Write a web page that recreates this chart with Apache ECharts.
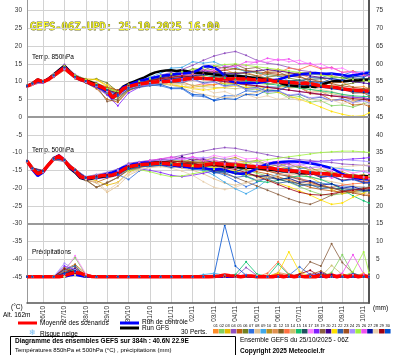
<!DOCTYPE html>
<html>
<head>
<meta charset="utf-8">
<script src="https://cdn.jsdelivr.net/npm/echarts@6/dist/echarts.min.js"></script>
<style>
html, body { margin: 0; padding: 0; background: #fff; }
#chart { width: 395px; height: 355px; }
</style>
</head>
<body>
<div id="chart"></div>
<script>
// run GEFS 06Z du 25/10/2025, heures depuis 25/10 06h UTC
const runStart = Date.UTC(2025, 9, 25, 6)
const stepHours = []
for (let h = 0; h <= 384; h += 6) stepHours.push(h)
// scenarios lus toutes les 12h (plus debut et fin)
const pertHours = [0]
for (let h = 6; h <= 378; h += 12) pertHours.push(h)
pertHours.push(384)

const dayTicks = [18, 42, 66, 90, 114, 138, 162, 186, 210, 234, 258, 282, 306, 330, 354, 378]
const leftTicks = [-45, -40, -35, -30, -25, -20, -15, -10, -5, 0, 5, 10, 15, 20, 25, 30]
const rightTicks = [0, 5, 10, 15, 20, 25, 30, 35, 40, 45, 50, 55, 60, 65, 70, 75]
const precipOffset = -45

const pertColors = ['#ff8c28','#80d060','#e8b800','#9050c0','#c06010','#708020','#3070e0','#e0c090','#40a8e8','#b89020',
  '#e09050','#806020','#ff7040','#c8c070','#10c070','#205060','#ff80ff','#8020ff','#8a6040','#400090',
  '#ffe000','#3060b0','#a05020','#a890ff','#a0f040','#f050f0','#0010a0','#e8d0b0','#a00010','#0050d0']

// moyenne / controle / GFS, pas de 6h
const mean850 = [8.7,9.3,10.5,9.9,10.6,11.7,12.8,13.9,12.5,11.3,10.6,10.2,9.4,9.0,8.4,7.6,5.5,6.5,8.0,8.6,
  9.0,9.3,9.5,9.8,9.9,10.0,10.0,10.2,10.3,10.5,10.8,10.9,11.0,10.9,10.8,10.8,10.6,10.8,10.7,10.9,
  10.7,10.8,10.6,10.5,10.4,10.5,10.2,10.0,9.9,9.8,9.7,9.5,9.6,9.4,9.1,8.8,8.6,8.5,8.3,8.0,
  7.8,7.6,7.5,7.4,7.3]
const ctrl850 = [8.7,9.4,10.4,9.8,10.7,11.8,13.0,14.2,12.6,11.2,10.5,10.0,9.2,8.6,8.0,7.0,5.2,6.8,8.4,9.0,
  9.6,10.2,10.5,10.9,11.2,11.6,11.8,12.0,12.2,12.3,12.4,12.6,13.2,14.2,14.3,14.0,13.0,11.6,10.2,9.8,
  9.6,9.7,9.6,9.6,9.8,10.1,10.4,10.6,11.0,11.5,11.8,12.0,12.2,12.3,12.4,12.3,12.2,12.3,12.1,11.9,
  11.6,11.8,12.0,12.3,12.4]
const gfs850 = [8.7,9.5,10.6,10.0,10.8,12.0,13.3,14.5,12.8,11.5,10.8,10.3,9.8,9.2,8.5,7.4,5.6,7.0,8.6,9.4,
  10.0,10.6,11.2,12.0,12.6,12.9,13.1,13.2,13.0,13.2,12.9,12.6,12.5,12.4,12.2,12.0,11.8,11.7,11.6,11.6,
  11.5,11.3,11.1,11.0,10.8,10.4,10.2,9.8,9.3,9.0,8.8,8.6,8.5,8.6,8.5,9.0,9.6,10.0,10.2,10.0,
  10.2,10.4,10.3,10.5,10.6]
const mean500 = [-12.4,-14.5,-16.0,-15.3,-13.5,-11.8,-11.0,-12.2,-14.0,-15.0,-16.8,-17.2,-17.0,-16.8,-16.5,-16.4,-16.3,-15.8,-14.8,-14.0,
  -13.7,-13.5,-13.3,-13.2,-13.0,-13.0,-13.1,-13.3,-13.4,-13.4,-13.6,-13.7,-13.8,-13.6,-13.3,-13.1,-13.2,-13.3,-13.4,-13.5,
  -13.6,-13.8,-13.9,-14.0,-14.2,-14.3,-14.5,-14.8,-15.0,-15.1,-15.2,-15.3,-15.5,-15.7,-15.8,-16.0,-16.0,-16.2,-16.3,-16.5,
  -16.6,-16.7,-16.8,-17.0,-17.1]
const ctrl500 = [-12.4,-14.8,-16.6,-15.6,-13.6,-11.6,-10.8,-12.0,-14.2,-15.4,-17.0,-17.5,-17.2,-16.9,-16.4,-16.0,-15.6,-15.0,-14.2,-13.6,
  -13.2,-13.0,-12.8,-12.9,-13.0,-13.2,-13.4,-13.6,-13.8,-14.0,-14.1,-14.2,-14.3,-14.4,-14.6,-14.8,-14.6,-14.9,-15.4,-15.8,
  -16.0,-15.9,-15.2,-14.6,-13.8,-13.2,-12.9,-12.7,-12.6,-12.5,-12.5,-12.6,-12.8,-13.0,-13.3,-13.6,-14.0,-14.4,-15.2,-16.0,
  -16.6,-17.0,-17.3,-17.5,-17.6]
const gfs500 = [-12.4,-14.3,-15.8,-15.2,-13.4,-11.6,-10.9,-12.3,-14.4,-15.6,-17.2,-17.6,-17.4,-17.0,-16.8,-16.6,-16.4,-15.8,-14.9,-14.2,
  -13.8,-13.4,-13.2,-13.0,-12.8,-12.8,-12.9,-13.0,-13.2,-13.3,-13.4,-13.5,-13.6,-13.6,-13.5,-13.4,-13.6,-13.8,-14.0,-14.1,
  -14.2,-14.3,-14.2,-14.4,-14.6,-14.8,-14.9,-15.1,-15.3,-15.4,-15.5,-15.6,-15.8,-15.9,-16.0,-16.1,-16.0,-16.2,-16.4,-16.5,
  -16.6,-16.5,-16.7,-16.6,-16.7]

// precipitations (mm) : [heure, mm], zero ailleurs
const meanPrecip = [[42,0.3],[48,0.8],[54,1.2],[60,1.0],[66,0.4],[72,0.1],[210,0.1],[216,0.2],[222,0.5],[228,0.3],[234,0.2],
  [246,0.2],[252,0.2],[282,0.3],[294,0.3],[306,0.2],[330,0.4],[342,0.5],[354,0.4],[366,0.4],[378,0.3]]
const ctrlPrecip = [[48,0.4],[54,0.6],[60,0.3]]
const gfsPrecip = [[48,1.0],[54,1.4],[60,0.6]]

// 30 perturbations, T850
const pert850 = [
  [8.6,9.3,10.2,12.0,14.5,11.8,10.4,9.2,7.0,5.5,8.0,9.5,10.4,11.0,12.2,11.6,12.8,11.4,12.6,13.4,12.2,12.6,11.6,12.9,13.5,12.4,12.2,11.0,11.2,9.6,9.8,8.4,8.6,8.0],
  [8.8,9.5,9.8,11.4,13.6,11.0,9.8,8.6,6.8,5.2,7.6,8.6,9.2,9.8,10.9,10.8,12.0,10.6,10.8,9.2,9.4,7.6,7.9,6.6,7.0,5.4,5.8,4.2,4.6,3.2,3.4,2.8,3.8,4.2],
  [8.7,9.2,10.0,11.8,14.0,11.6,10.8,10.6,9.0,7.4,8.8,9.2,9.6,9.4,9.0,8.6,8.4,8.8,9.2,9.6,9.4,9.0,8.6,8.2,8.4,8.8,9.4,9.8,9.2,8.6,8.0,7.2,6.8,6.6],
  [8.7,9.6,10.1,12.2,14.8,12.0,10.6,9.4,7.8,6.2,8.8,10.2,11.0,11.8,12.6,13.4,14.6,16.0,17.2,18.0,18.5,17.4,16.0,15.2,14.8,14.0,13.2,12.8,12.4,12.0,11.6,11.2,11.6,12.0],
  [8.6,9.2,9.7,11.2,13.2,10.8,9.6,8.0,5.0,4.2,7.4,8.6,9.4,10.2,11.2,11.0,12.2,11.8,13.0,11.6,11.8,10.4,10.6,9.2,9.6,8.4,8.4,6.6,6.4,4.8,4.8,3.4,3.6,3.0],
  [8.7,9.4,10.0,11.6,13.8,11.4,10.2,10.8,9.6,7.2,8.4,9.0,9.6,10.4,11.2,12.0,12.6,13.0,13.6,14.0,13.6,13.0,12.4,12.0,11.6,11.0,10.4,9.8,9.0,8.6,9.0,9.6,10.2,10.4],
  [8.8,9.5,9.9,11.6,13.6,11.2,10.0,8.8,7.4,6.0,8.2,8.8,9.0,8.8,8.0,8.0,6.0,5.8,4.8,6.0,6.0,7.4,7.2,8.6,8.4,9.8,9.8,11.2,11.0,12.2,11.8,12.8,12.6,13.0],
  [8.6,9.2,9.8,11.5,13.4,11.0,10.0,9.2,8.0,7.0,8.4,9.0,9.4,9.6,9.0,8.2,7.2,6.4,5.8,5.4,5.8,6.4,7.0,7.6,8.0,8.4,8.8,8.4,7.8,7.2,6.4,5.8,5.4,5.2],
  [8.7,9.4,10.0,11.9,14.2,11.6,10.4,9.0,7.2,6.0,8.8,10.0,11.2,12.4,13.8,14.0,15.6,15.2,15.6,14.2,14.2,12.6,12.8,11.4,11.6,10.2,10.4,9.2,9.4,8.0,8.2,6.8,7.0,6.4],
  [8.7,9.3,9.9,11.7,13.9,11.4,10.2,9.0,7.4,6.4,8.4,9.4,10.0,10.6,11.0,11.4,11.2,10.8,10.4,10.0,9.8,10.2,10.6,11.2,11.8,12.2,12.6,12.4,12.0,11.6,11.0,10.6,10.4,10.2],
  [8.8,9.5,10.0,11.8,14.1,11.3,10.3,9.1,7.8,6.8,8.8,9.6,10.2,10.8,11.8,11.6,13.0,11.8,12.2,11.0,11.4,10.2,10.6,9.4,9.6,8.2,8.4,7.0,7.2,5.8,6.0,4.6,5.0,4.4],
  [8.6,9.2,9.8,11.6,13.8,11.2,10.0,8.6,6.4,4.6,7.6,8.8,9.6,10.0,10.6,11.0,11.4,11.8,12.2,12.4,12.6,12.2,11.6,11.0,10.4,9.8,9.2,8.8,8.6,8.2,7.8,7.6,7.8,8.0],
  [8.7,9.4,10.1,11.9,14.0,11.5,10.4,9.4,8.2,7.4,9.0,9.6,10.0,10.2,9.6,10.0,8.8,9.4,9.0,10.2,10.0,11.4,11.2,12.6,12.4,13.8,13.4,14.6,13.6,14.0,12.6,13.0,11.8,12.0],
  [8.7,9.3,9.8,11.5,13.7,11.2,10.1,8.9,7.4,6.6,8.6,9.2,9.6,9.8,9.6,9.4,9.0,8.6,8.4,8.2,8.0,8.4,8.8,9.2,9.6,9.0,8.4,7.8,7.2,6.6,6.0,5.6,5.4,5.2],
  [8.8,9.5,10.0,11.8,13.8,11.2,10.0,9.2,8.0,7.2,9.2,10.0,10.6,11.2,11.6,12.0,12.2,11.8,11.4,11.0,10.6,10.2,9.8,9.4,9.0,8.6,8.2,7.8,7.4,7.0,6.4,6.0,5.8,5.8],
  [8.7,9.4,9.9,11.6,13.8,11.3,10.2,9.0,7.6,6.4,8.4,9.0,9.4,9.6,9.8,10.2,10.6,11.0,11.4,11.8,12.0,11.6,11.2,10.8,10.4,10.2,10.4,10.6,10.8,11.0,11.2,11.0,10.8,10.6],
  [8.6,9.2,9.8,11.6,13.8,11.2,10.0,8.8,7.2,6.0,8.0,9.0,9.8,10.4,11.4,11.0,12.2,12.0,13.4,13.2,14.6,14.4,15.8,15.4,16.4,15.6,16.0,14.8,15.0,13.6,13.8,12.4,12.8,12.0],
  [8.7,9.3,9.7,11.4,13.4,11.0,9.8,8.4,6.2,3.2,6.8,8.4,9.2,9.8,10.2,10.6,11.0,10.8,10.4,10.0,9.6,9.2,8.8,8.4,8.0,7.6,7.2,6.8,6.4,6.0,5.8,5.6,5.4,5.2],
  [8.7,9.4,10.0,11.8,14.0,11.4,10.2,8.8,4.4,5.0,8.0,9.2,10.2,11.0,12.2,12.2,13.6,13.2,14.4,13.8,14.8,13.6,14.0,12.6,12.8,11.4,11.6,10.0,10.0,8.4,8.4,6.8,6.8,6.0],
  [8.8,9.5,10.0,11.8,14.0,11.4,10.2,9.0,7.6,6.6,8.8,9.6,10.4,11.0,11.6,12.2,12.8,13.0,12.6,12.4,12.2,12.6,13.0,13.4,13.0,12.6,12.0,11.6,11.2,10.8,10.4,10.0,9.6,9.4],
  [8.7,9.4,10.0,11.7,13.8,11.4,10.4,10.6,8.6,7.0,8.6,9.0,9.4,9.6,9.2,8.6,8.0,7.6,8.0,8.4,8.8,8.4,8.0,7.6,7.0,6.0,5.0,4.0,2.8,1.6,0.8,0.2,0.4,1.2],
  [8.6,9.3,9.9,11.6,13.6,11.0,9.8,8.6,7.0,5.8,7.8,8.4,8.8,9.2,10.0,9.6,10.8,9.6,10.0,8.8,9.2,8.0,8.4,7.2,7.4,6.0,6.4,5.2,5.6,4.6,5.2,4.2,5.0,5.0],
  [8.7,9.4,10.0,11.8,14.0,11.6,10.6,9.6,8.4,7.6,9.4,10.0,10.4,10.8,11.2,11.6,12.0,12.4,12.8,13.2,13.6,13.2,12.8,12.4,12.0,11.6,11.2,10.6,10.0,9.4,8.8,8.4,8.0,7.8],
  [8.7,9.3,9.8,11.5,13.6,11.1,9.9,8.7,7.2,6.2,8.2,8.8,9.2,9.6,10.4,10.0,10.6,9.4,9.8,8.6,9.0,7.8,8.2,7.0,7.4,6.2,6.6,5.4,5.8,4.6,5.0,4.0,4.6,4.0],
  [8.8,9.5,10.1,12.0,14.4,11.8,10.6,9.4,8.0,7.0,9.0,10.0,10.8,11.6,12.2,12.8,13.4,14.0,14.4,14.8,15.0,14.6,14.2,13.8,13.4,13.0,12.6,12.2,11.8,11.4,11.0,10.6,10.4,10.2],
  [8.6,9.2,9.8,11.6,13.6,11.2,10.0,8.8,7.4,6.4,8.4,9.2,9.8,10.4,10.6,12.0,11.8,13.2,13.0,14.4,14.2,15.6,15.4,16.6,16.0,16.4,15.0,15.2,13.8,14.0,12.6,12.8,11.6,11.6],
  [8.7,9.4,9.9,11.7,13.9,11.3,10.1,8.9,7.5,6.3,8.4,9.2,9.8,10.4,10.8,11.2,11.6,12.0,12.2,12.0,11.6,11.2,10.8,10.4,10.0,9.6,9.2,8.8,8.4,8.0,7.6,7.2,7.0,6.8],
  [8.7,9.3,9.9,11.7,13.8,11.2,10.0,8.8,7.4,6.6,8.6,9.2,9.6,9.8,9.0,9.4,8.0,8.2,6.8,7.2,6.0,6.4,5.4,6.0,5.0,5.6,4.6,5.2,4.2,4.8,3.8,4.4,3.6,3.6],
  [8.7,9.4,10.0,11.8,14.0,11.4,10.2,9.0,7.6,6.8,8.8,9.6,10.2,10.8,11.2,11.6,11.2,10.8,10.4,10.0,9.6,9.2,8.8,8.4,8.0,7.6,7.2,6.8,6.4,6.0,5.6,5.2,5.0,4.8],
  [8.8,9.5,10.0,11.8,14.0,11.4,10.2,9.0,7.6,6.4,8.2,9.0,9.4,9.2,8.2,8.2,6.4,6.2,4.6,5.2,5.0,6.4,6.2,7.6,7.4,8.8,8.6,10.0,9.6,10.8,10.4,11.6,11.2,12.0]
]

// 30 perturbations, T500
const pert500 = [
  [-12.4,-14.4,-15.2,-11.6,-12.0,-14.8,-17.0,-16.4,-16.0,-15.2,-13.6,-13.0,-12.6,-12.4,-13.2,-12.8,-14.0,-12.8,-13.2,-12.6,-13.8,-13.4,-14.6,-14.2,-15.4,-15.0,-16.2,-15.8,-17.0,-16.6,-17.8,-17.4,-18.2,-18.2],
  [-12.5,-14.6,-15.4,-11.9,-12.4,-15.2,-17.6,-17.4,-16.8,-16.0,-14.2,-13.6,-13.0,-12.6,-12.4,-12.2,-12.6,-13.0,-13.4,-13.8,-14.4,-15.0,-15.8,-16.6,-17.4,-18.4,-19.6,-20.8,-21.8,-22.0,-21.6,-21.2,-21.0,-21.0],
  [-12.4,-14.5,-15.3,-11.8,-12.2,-15.0,-17.2,-18.0,-19.2,-18.4,-15.6,-14.2,-13.4,-13.0,-13.2,-13.4,-13.8,-14.0,-13.6,-13.2,-12.8,-12.4,-12.8,-13.2,-13.8,-14.6,-15.6,-17.0,-18.6,-20.4,-21.6,-21.0,-20.2,-19.6],
  [-12.3,-14.3,-15.0,-11.4,-11.8,-14.6,-16.8,-16.2,-15.6,-14.6,-13.0,-12.6,-12.2,-11.8,-11.4,-10.8,-10.2,-9.6,-9.0,-8.6,-8.8,-9.4,-10.0,-10.6,-11.2,-11.6,-12.0,-12.2,-12.6,-12.8,-13.2,-13.4,-13.6,-13.8],
  [-12.4,-14.6,-15.5,-12.0,-12.4,-15.4,-17.8,-18.4,-17.2,-16.4,-14.8,-14.0,-13.6,-13.4,-13.2,-13.0,-12.8,-13.0,-13.4,-13.8,-14.2,-14.8,-15.4,-16.0,-16.8,-17.8,-18.8,-19.8,-20.4,-20.8,-21.2,-21.0,-20.6,-20.4],
  [-12.4,-14.5,-15.2,-11.7,-12.1,-14.9,-17.0,-16.6,-16.2,-15.6,-14.0,-13.4,-13.0,-12.8,-13.4,-13.0,-14.4,-14.2,-15.6,-15.2,-15.6,-14.2,-14.4,-13.2,-13.8,-13.2,-14.4,-14.2,-15.6,-15.4,-16.8,-16.6,-17.6,-17.6],
  [-12.5,-14.7,-15.6,-12.1,-12.5,-15.2,-17.4,-17.0,-16.6,-16.2,-17.6,-15.2,-14.0,-13.6,-13.8,-14.2,-14.6,-15.0,-15.4,-16.4,-18.0,-19.6,-18.4,-17.0,-16.2,-16.6,-17.4,-18.0,-18.6,-19.0,-19.4,-19.6,-19.8,-19.8],
  [-12.4,-14.4,-15.2,-11.8,-12.2,-15.0,-17.4,-18.6,-21.2,-19.4,-16.4,-15.0,-14.2,-13.8,-14.0,-14.4,-15.0,-16.0,-17.4,-18.6,-19.2,-18.4,-17.6,-17.0,-16.4,-16.0,-16.4,-17.0,-17.6,-18.2,-18.8,-19.4,-19.8,-20.0],
  [-12.3,-14.4,-15.1,-11.6,-12.0,-14.8,-16.8,-16.4,-16.0,-15.0,-13.4,-12.8,-12.6,-12.4,-12.8,-13.4,-14.2,-15.0,-16.4,-18.4,-20.2,-21.6,-20.0,-17.6,-16.0,-15.2,-14.6,-14.2,-14.0,-14.2,-14.6,-15.0,-15.4,-15.6],
  [-12.4,-14.5,-15.3,-11.8,-12.2,-15.0,-17.2,-16.8,-16.4,-15.8,-14.0,-13.4,-13.0,-12.8,-12.2,-12.8,-11.8,-12.4,-11.4,-12.0,-11.4,-12.6,-12.2,-13.4,-13.0,-14.2,-13.8,-15.0,-14.6,-15.8,-15.4,-16.6,-16.2,-16.8],
  [-12.5,-14.6,-15.4,-11.9,-12.3,-15.1,-17.2,-17.0,-16.6,-16.0,-14.2,-13.6,-13.2,-13.0,-13.2,-13.6,-14.0,-14.4,-14.8,-15.2,-15.6,-16.0,-16.4,-16.8,-17.2,-17.6,-18.2,-18.8,-19.4,-20.0,-20.6,-21.2,-21.6,-21.8],
  [-12.4,-14.4,-15.2,-11.7,-12.1,-14.9,-17.6,-19.8,-18.6,-17.0,-14.8,-14.0,-13.6,-13.4,-13.2,-13.0,-12.8,-12.6,-12.4,-12.6,-13.0,-13.4,-13.8,-14.2,-14.6,-15.0,-15.2,-15.4,-15.8,-16.2,-16.6,-17.0,-17.4,-17.6],
  [-12.4,-14.5,-15.3,-11.8,-12.2,-15.0,-17.0,-16.6,-16.2,-15.6,-13.8,-13.2,-12.8,-12.6,-12.8,-13.0,-13.2,-13.4,-13.6,-13.8,-14.0,-14.4,-14.8,-15.2,-15.8,-16.4,-17.2,-18.2,-19.4,-19.8,-19.2,-18.8,-18.6,-18.6],
  [-12.3,-14.3,-15.1,-11.6,-12.0,-14.8,-17.0,-16.8,-16.4,-15.8,-14.2,-13.6,-13.2,-13.0,-13.6,-13.0,-14.0,-13.4,-14.0,-13.0,-13.6,-12.6,-13.8,-13.4,-14.6,-14.2,-15.4,-15.0,-16.2,-15.6,-16.6,-16.0,-16.8,-16.6],
  [-12.4,-14.5,-15.3,-11.8,-12.2,-15.0,-17.2,-17.2,-16.8,-16.2,-14.6,-14.0,-13.6,-13.4,-13.2,-13.0,-13.2,-13.6,-14.2,-14.8,-15.6,-16.8,-18.0,-18.4,-17.8,-17.0,-16.6,-16.8,-17.6,-18.8,-20.4,-22.2,-23.6,-24.2],
  [-12.5,-14.6,-15.4,-11.9,-12.3,-15.1,-17.4,-17.2,-16.8,-16.2,-14.4,-13.8,-13.4,-13.2,-13.4,-13.8,-14.2,-14.6,-15.0,-15.4,-15.8,-16.2,-16.6,-17.0,-17.6,-18.2,-18.8,-19.2,-19.6,-20.0,-20.2,-20.4,-20.6,-20.6],
  [-12.4,-14.4,-15.2,-11.7,-12.1,-14.9,-17.0,-16.6,-16.2,-15.4,-13.6,-13.0,-12.6,-12.2,-11.6,-12.2,-11.2,-11.8,-10.8,-11.4,-10.8,-11.8,-11.6,-12.8,-12.4,-13.6,-13.2,-14.4,-14.0,-15.2,-14.8,-15.8,-15.2,-15.8],
  [-12.4,-14.5,-15.3,-11.8,-12.2,-15.0,-17.4,-17.4,-17.0,-16.4,-14.8,-14.6,-15.0,-15.6,-16.4,-16.8,-16.4,-15.8,-15.2,-14.6,-14.2,-13.8,-13.6,-13.4,-13.2,-13.0,-12.8,-12.6,-12.4,-12.2,-12.0,-11.8,-11.6,-11.4],
  [-12.3,-14.4,-15.1,-11.6,-12.0,-14.8,-17.8,-19.8,-18.4,-17.0,-15.0,-14.2,-13.8,-13.6,-13.4,-13.6,-14.0,-14.6,-15.2,-16.0,-17.0,-18.2,-19.4,-20.6,-21.8,-23.0,-24.0,-24.6,-23.4,-22.0,-21.0,-20.4,-20.0,-19.8],
  [-12.4,-14.5,-15.3,-11.8,-12.2,-15.0,-17.2,-16.8,-16.2,-15.4,-13.8,-13.0,-12.4,-12.0,-12.2,-11.2,-12.2,-11.8,-13.0,-12.6,-13.8,-13.4,-14.6,-14.2,-15.4,-15.0,-16.2,-15.8,-17.0,-16.6,-17.8,-17.4,-18.4,-18.4],
  [-12.5,-14.6,-15.4,-11.9,-12.3,-15.1,-17.2,-17.0,-16.6,-16.0,-14.2,-13.8,-13.4,-13.2,-13.4,-13.6,-13.8,-14.0,-14.2,-14.6,-15.2,-16.0,-16.8,-17.6,-18.6,-19.6,-20.8,-22.0,-23.4,-24.6,-24.2,-22.6,-21.4,-20.8],
  [-12.4,-14.4,-15.2,-11.7,-12.1,-14.9,-17.0,-16.6,-16.0,-15.2,-13.6,-13.0,-12.8,-12.8,-13.4,-13.0,-14.4,-14.2,-15.8,-15.6,-17.0,-16.6,-17.8,-17.4,-18.6,-18.2,-19.4,-19.0,-20.2,-19.8,-20.8,-20.2,-21.0,-20.8],
  [-12.4,-14.5,-15.3,-11.8,-12.2,-15.0,-17.2,-17.0,-16.6,-15.8,-14.0,-13.4,-13.0,-12.8,-12.6,-12.4,-12.6,-12.8,-13.0,-13.2,-13.6,-14.0,-14.6,-15.2,-16.0,-16.8,-17.6,-18.4,-19.2,-20.0,-20.8,-21.4,-22.0,-22.2],
  [-12.3,-14.4,-15.2,-11.7,-12.1,-14.9,-16.8,-16.4,-15.8,-15.0,-13.4,-12.8,-12.4,-12.2,-12.0,-11.8,-11.6,-11.4,-11.6,-11.8,-12.0,-12.4,-12.8,-13.2,-13.6,-14.0,-13.6,-13.0,-12.6,-12.2,-12.0,-12.2,-12.4,-12.6],
  [-12.4,-14.5,-15.3,-11.8,-12.2,-15.0,-17.2,-16.8,-16.4,-16.0,-15.0,-14.8,-15.4,-16.2,-16.8,-16.6,-16.0,-15.4,-14.8,-14.2,-13.6,-13.0,-12.4,-12.0,-11.6,-11.2,-10.8,-10.4,-10.0,-9.8,-9.6,-9.6,-9.8,-10.0],
  [-12.5,-14.6,-15.4,-11.9,-12.3,-15.1,-17.2,-16.8,-16.2,-15.4,-13.6,-12.8,-12.2,-11.8,-11.2,-11.8,-11.2,-12.4,-12.0,-13.2,-12.8,-14.0,-13.6,-14.8,-14.2,-15.6,-15.0,-16.4,-15.8,-17.2,-16.6,-17.6,-17.0,-17.4],
  [-12.4,-14.4,-15.2,-11.7,-12.1,-14.9,-17.0,-16.8,-16.4,-15.8,-14.2,-13.6,-13.2,-13.0,-13.6,-13.2,-14.4,-14.0,-15.2,-14.8,-16.0,-15.6,-16.8,-16.4,-17.6,-17.2,-18.4,-18.0,-19.2,-18.8,-20.0,-19.6,-20.6,-20.6],
  [-12.4,-14.5,-15.3,-11.8,-12.2,-15.0,-17.6,-18.2,-20.8,-18.6,-15.8,-14.8,-14.2,-14.0,-14.4,-15.2,-16.4,-18.2,-19.8,-20.4,-19.8,-18.6,-17.6,-17.0,-16.4,-16.0,-15.6,-15.2,-14.8,-14.4,-14.0,-13.8,-13.6,-13.4],
  [-12.3,-14.4,-15.2,-11.7,-12.1,-14.9,-17.0,-16.6,-16.2,-15.6,-13.8,-13.2,-12.8,-12.6,-12.4,-12.6,-13.0,-13.4,-13.8,-14.2,-14.8,-15.6,-16.6,-17.8,-19.0,-20.2,-21.2,-21.8,-22.0,-21.6,-21.0,-20.6,-20.2,-20.0],
  [-12.4,-14.5,-15.3,-11.8,-12.2,-15.0,-17.2,-17.0,-16.8,-16.2,-14.6,-14.0,-13.8,-13.6,-14.2,-13.6,-14.8,-14.4,-15.6,-15.2,-15.4,-14.2,-14.6,-13.6,-14.8,-14.4,-15.6,-15.4,-16.8,-16.6,-18.0,-17.6,-18.6,-18.6]
]

// 30 perturbations, precipitations : [heure, mm]
const pertPrecip = [
  [[30,0.3],[42,1.5],[54,2.5],[66,0.4],[330,0.6]],
  [[42,2.0],[54,5.4],[66,0.6],[342,1.2],[354,6.2],[366,0.8]],
  [[42,1.0],[54,2.0],[378,1.0]],
  [[54,1.2],[246,2.6],[258,0.4]],
  [[42,2.0],[54,3.5],[66,0.8],[282,1.0]],
  [[42,1.6],[54,3.2],[306,0.5]],
  [[42,1.2],[54,1.8],[294,0.4],[306,2.8],[318,0.6]],
  [[54,0.8],[270,0.5]],
  [[42,1.8],[54,1.2],[198,0.6],[210,1.0],[222,0.4]],
  [[42,0.6],[54,1.2],[354,0.8]],
  [[54,0.6],[282,1.2],[294,0.6]],
  [[42,2.5],[54,1.5],[366,0.6]],
  [[42,0.8],[54,1.4],[270,1.0],[282,4.2],[294,0.8]],
  [[54,0.4],[342,3.2],[354,0.6]],
  [[42,1.2],[54,2.2],[234,0.6],[246,4.2],[258,0.8],[282,3.6],[294,0.6]],
  [[54,0.6],[330,0.8]],
  [[42,1.5],[54,5.9],[66,0.8],[366,0.6]],
  [[42,3.0],[54,2.0],[318,0.8]],
  [[54,1.0],[306,0.6],[318,4.2],[330,3.0],[342,9.3],[354,4.0],[366,1.0]],
  [[42,1.0],[54,2.4],[330,1.2]],
  [[54,0.8],[282,1.0],[294,7.0],[306,1.4]],
  [[42,2.0],[54,3.0],[366,1.0]],
  [[42,1.5],[54,1.0],[318,0.6],[330,1.6]],
  [[42,3.8],[54,2.0],[246,0.6]],
  [[54,0.8],[366,1.4],[378,7.0],[384,1.2]],
  [[42,0.6],[54,1.2],[354,1.0],[366,6.2],[378,0.8]],
  [[42,1.0],[54,1.6],[342,0.6]],
  [[54,0.5],[258,0.4]],
  [[42,2.2],[54,1.0],[306,0.8],[318,1.8]],
  [[42,0.8],[54,1.5],[210,0.4],[222,14.6],[234,3.0],[246,0.4]]
]

const yMin = -52.4
const yMax = 33
const smallFont = '"Liberation Sans", Arial, sans-serif'

function toPoints(hours, vals) {
  return hours.map((h, i) => [h, vals[i]])
}
function precipPoints(hours, events) {
  const m = new Map(events)
  return hours.map(h => [h, (m.get(h) || 0) + precipOffset])
}
function dayLabel(h) {
  const d = new Date(runStart + h * 3600000)
  return String(d.getUTCDate()).padStart(2, '0') + '/' + String(d.getUTCMonth() + 1).padStart(2, '0')
}

function pertSeries(data, color) {
  return {
    type: 'line', data: data, yAxisIndex: 0, silent: true,
    symbol: 'circle', symbolSize: 2, showSymbol: true,
    lineStyle: { width: 0.8, color: color }, itemStyle: { color: color }
  }
}
function mainSeries(data, color, width) {
  return {
    type: 'line', data: data, yAxisIndex: 0, silent: true,
    symbol: 'none', lineStyle: { width: width, color: color }
  }
}

const series = []
// traits de separation des panneaux
series.push({
  type: 'line', data: [], silent: true,
  markLine: {
    silent: true, symbol: ['none', 'none'], label: { show: false },
    lineStyle: { color: '#9a9a9a', width: 2, type: 'solid' },
    data: [{ yAxis: 0 }, { yAxis: -30 }]
  }
})
for (let k = 0; k < 30; k++) {
  series.push(pertSeries(toPoints(pertHours, pert850[k]), pertColors[k]))
  series.push(pertSeries(toPoints(pertHours, pert500[k]), pertColors[k]))
  series.push(pertSeries(precipPoints(pertHours, pertPrecip[k]), pertColors[k]))
}
series.push(mainSeries(toPoints(stepHours, gfs850), '#000000', 2.5))
series.push(mainSeries(toPoints(stepHours, gfs500), '#000000', 2.5))
series.push(mainSeries(precipPoints(stepHours, gfsPrecip), '#000000', 2.5))
series.push(mainSeries(toPoints(stepHours, ctrl850), '#0000ff', 2.5))
series.push(mainSeries(toPoints(stepHours, ctrl500), '#0000ff', 2.5))
series.push(mainSeries(precipPoints(stepHours, ctrlPrecip), '#0000ff', 2.5))
series.push(mainSeries(toPoints(stepHours, mean850), '#ff0000', 3.5))
series.push(mainSeries(toPoints(stepHours, mean500), '#ff0000', 3.5))
series.push(mainSeries(precipPoints(stepHours, meanPrecip), '#ff0000', 3.5))

function txt(x, y, text, opts) {
  return {
    type: 'text', x: x, y: y, silent: true,
    style: Object.assign({ text: text, fill: '#000', font: '6.5px ' + smallFont, verticalAlign: 'middle' }, opts || {})
  }
}

const graphics = [
  txt(30, 27, 'GEFS-06Z-UPD: 25-10-2025 16:00', {
    fill: '#ffff20', stroke: '#6e6e30', lineWidth: 1, font: '10.5px "DejaVu Sans Mono", monospace'
  }),
  txt(32, 57, 'Temp. 850hPa'),
  txt(32, 150, 'Temp. 500hPa'),
  txt(32, 252, 'Précipitations'),
  txt(11, 307, '(°C)'),
  txt(3, 315, 'Alt. 162m'),
  txt(373, 308, '(mm)'),
  { type: 'line', silent: true, shape: { x1: 18, y1: 323, x2: 37, y2: 323 }, style: { stroke: '#ff0000', lineWidth: 3 } },
  txt(40, 323, 'Moyenne des scénarios'),
  { type: 'line', silent: true, shape: { x1: 120, y1: 323, x2: 139, y2: 323 }, style: { stroke: '#0000ff', lineWidth: 3 } },
  { type: 'line', silent: true, shape: { x1: 120, y1: 328, x2: 139, y2: 328 }, style: { stroke: '#000000', lineWidth: 3 } },
  txt(142, 322, 'Run de contrôle'),
  txt(142, 328, 'Run GFS'),
  txt(29, 333, '❄', { fill: '#70b8f0', font: '8px "DejaVu Sans", sans-serif' }),
  txt(40, 334, 'Risque neige'),
  txt(181, 332, '30 Perts.'),
  { type: 'rect', silent: true, shape: { x: 10.5, y: 336.5, width: 225, height: 25 }, style: { fill: 'none', stroke: '#000', lineWidth: 1 } },
  txt(15, 341, 'Diagramme des ensembles GEFS sur 384h : 40.6N 22.9E', { font: 'bold 6.5px ' + smallFont }),
  txt(15, 350, 'Températures 850hPa et 500hPa (°C) , précipitations (mm)', { font: '6px ' + smallFont }),
  txt(240, 340, 'Ensemble GEFS du 25/10/2025 - 06Z'),
  txt(240, 351, 'Copyright 2025 Meteociel.fr', { font: 'bold 6.5px ' + smallFont })
]
for (let k = 0; k < 30; k++) {
  const x = 213 + k * 5.93
  graphics.push(txt(x + 2.7, 326, String(k + 1).padStart(2, '0'), { font: '4px ' + smallFont, align: 'center' }))
  graphics.push({ type: 'rect', silent: true, shape: { x: x, y: 329, width: 5.6, height: 4.5 }, style: { fill: pertColors[k] } })
}

const option = {
  animation: false,
  backgroundColor: '#ffffff',
  grid: { left: 27, right: 26, top: 0, bottom: 52, containLabel: false },
  xAxis: {
    type: 'value', min: 0, max: 384,
    axisLine: { show: true, onZero: false, lineStyle: { color: '#555', width: 1.5 } },
    axisTick: { show: false, customValues: dayTicks },
    axisLabel: {
      customValues: dayTicks, rotate: 90, margin: 3, fontSize: 6.5, color: '#333',
      fontFamily: smallFont, formatter: v => dayLabel(v)
    },
    splitLine: { show: true, lineStyle: { color: '#d2d2d2', width: 1 } }
  },
  yAxis: [{
    type: 'value', min: yMin, max: yMax, position: 'left',
    axisLine: { show: true, onZero: false, lineStyle: { color: '#999', width: 1 } },
    axisTick: { show: false, customValues: leftTicks },
    axisLabel: { customValues: leftTicks, fontSize: 6.5, color: '#333', margin: 5, fontFamily: smallFont },
    splitLine: { show: true, lineStyle: { color: '#d2d2d2', width: 1 } }
  }, {
    type: 'value', min: yMin + 45, max: yMax + 45, position: 'right',
    axisLine: { show: true, onZero: false, lineStyle: { color: '#555', width: 2 } },
    axisTick: { show: false, customValues: rightTicks },
    axisLabel: { customValues: rightTicks, fontSize: 6.5, color: '#333', margin: 7, fontFamily: smallFont },
    splitLine: { show: false }
  }],
  series: series,
  graphic: graphics
}

const chart = echarts.init(document.getElementById('chart'))
chart.setOption(option)
</script>
</body>
</html>
